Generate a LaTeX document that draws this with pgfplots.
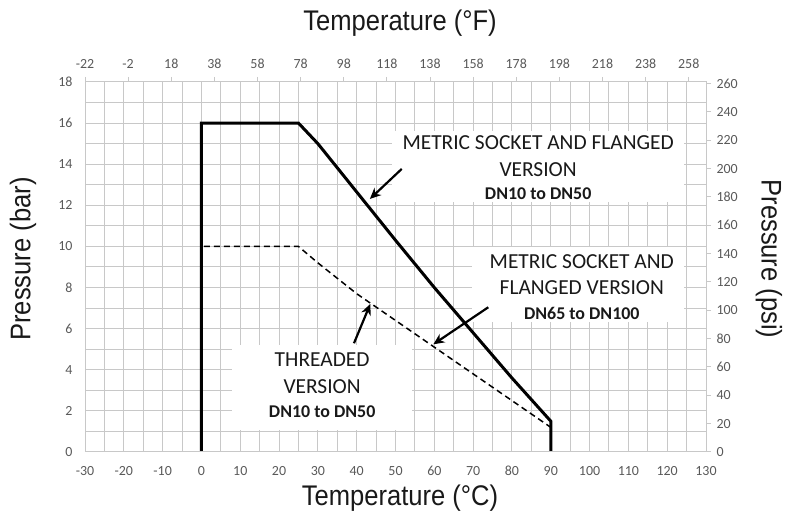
\documentclass[border=0pt]{standalone}
\usepackage{pgfplots}
\pgfplotsset{compat=1.18}
\usepackage{fontspec}
\setmainfont{Carlito}
\newfontfamily\titlefont{Liberation Sans}
\usetikzlibrary{arrows.meta}
\usepackage{graphicx}
\definecolor{gridc}{RGB}{200,200,200}
\definecolor{tickc}{RGB}{89,89,89}
\definecolor{txtc}{RGB}{25,25,25}
\newcommand{\ttl}[1]{\scalebox{0.9}[1]{\titlefont\fontsize{28.5}{30}\selectfont #1}}
\begin{document}
\begin{tikzpicture}[x=1bp,y=1bp]
\path[use as bounding box] (0,0) rectangle (791,512);
\begin{axis}[
  at={(85bp,60bp)}, anchor=south west,
  width=621bp, height=370bp, scale only axis,
  xmin=-30, xmax=130, ymin=0, ymax=18,
  xtick={-30,-20,...,130}, ytick={0,2,...,18},
  minor xtick={-25,-15,...,125}, minor ytick={1,3,...,17},
  grid=both,
  major grid style={gridc, line width=1bp},
  minor grid style={gridc, line width=1bp},
  major tick length=0pt, minor tick length=0pt,
  axis line style={gridc, line width=1bp},
  ticklabel style={font=\fontsize{14}{14}\selectfont, text=tickc},
  /pgf/number format/assume math mode=true,
  xticklabel style={yshift=-10.5bp},
  yticklabel style={xshift=-9bp},
  clip=false,
]
% white annotation boxes
\fill[white] (axis cs:49,12.15) rectangle (axis cs:124.3,15.6);
\fill[white] (axis cs:69.8,6.3) rectangle (axis cs:124.3,9.95);
\fill[white] (axis cs:7.8,1.05) rectangle (axis cs:54.2,5.2);

% solid curve: metric socket and flanged DN10-DN50
\addplot[black, line width=3bp, line join=miter] coordinates {
 (0,0) (0,16) (25,16) (30,15) (40,12.65) (50,10.3) (60,8) (70,5.8) (80,3.6) (90,1.5) (90,0)};
% dashed curve
\addplot[black, line width=1.5bp, dash pattern=on 6bp off 4bp] coordinates {
 (0.6,10) (25,10) (30,9.2) (40,7.7) (50,6.4) (60,5.1) (70,3.8) (80,2.5) (90,1.2)};

% annotation texts
\node[text=txtc, font=\fontsize{21.5}{22}\selectfont] at (axis cs:86.75,15.04) {METRIC SOCKET AND FLANGED};
\node[text=txtc, font=\fontsize{21.5}{22}\selectfont] at (axis cs:86.75,13.72) {VERSION};
\node[text=txtc, font=\fontsize{18}{18}\selectfont\bfseries] at (axis cs:86.75,12.55) {DN10 to DN50};

\node[text=txtc, font=\fontsize{21.5}{22}\selectfont] at (axis cs:98,9.24) {METRIC SOCKET AND};
\node[text=txtc, font=\fontsize{21.5}{22}\selectfont] at (axis cs:98,7.98) {FLANGED VERSION};
\node[text=txtc, font=\fontsize{18}{18}\selectfont\bfseries] at (axis cs:98,6.76) {DN65 to DN100};

\node[text=txtc, font=\fontsize{21.5}{22}\selectfont] at (axis cs:31.1,4.48) {THREADED};
\node[text=txtc, font=\fontsize{21.5}{22}\selectfont] at (axis cs:31.1,3.16) {VERSION};
\node[text=txtc, font=\fontsize{18}{18}\selectfont\bfseries] at (axis cs:31.1,1.95) {DN10 to DN50};

% arrows
\draw[black, line width=2.2bp, -{Stealth[length=11bp,width=10bp]}] (axis cs:51.6,13.77) -- (axis cs:43.4,12.31);
\draw[black, line width=2.2bp, -{Stealth[length=11bp,width=10bp]}] (axis cs:73.9,7.04) -- (axis cs:59.75,5.24);
\draw[black, line width=2.2bp, -{Stealth[length=11bp,width=10bp]}] (axis cs:39.3,5.29) -- (axis cs:43.5,7.2);
\end{axis}

\begin{axis}[
  at={(85bp,60bp)}, anchor=south west,
  width=621bp, height=370bp, scale only axis,
  xmin=-22, xmax=266, ymin=0, ymax=261.068,
  xtick={-22,-2,...,258}, ytick={0,20,...,260},
  xtick pos=right, xticklabel pos=right,
  ytick pos=right, yticklabel pos=right,
  tick align=outside, major tick length=5bp,
  tick style={gridc, line width=1bp},
  axis line style={gridc, line width=1bp},
  ticklabel style={font=\fontsize{14}{14}\selectfont, text=tickc},
  /pgf/number format/assume math mode=true,
  xticklabel style={yshift=5bp},
  yticklabel style={xshift=2bp},
]
\end{axis}

% axis titles
\node[text=txtc] at (400,14) {\ttl{Temperature (°C)}};
\node[text=txtc] at (400,489) {\ttl{Temperature (°F)}};
\node[text=txtc, rotate=90] at (23,253) {\ttl{Pressure (bar)}};
\node[text=txtc, rotate=-90] at (769,253) {\ttl{Pressure (psi)}};
\end{tikzpicture}
\end{document}
